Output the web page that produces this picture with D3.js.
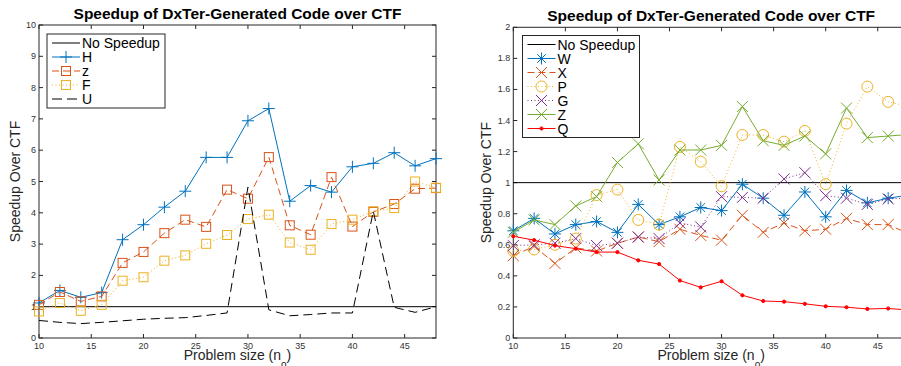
<!DOCTYPE html>
<html>
<head>
<meta charset="utf-8">
<script src="https://cdn.jsdelivr.net/npm/d3@7"></script>
<style>
  body { margin: 0; background: #fff; }
  svg { display: block; font-family: "Liberation Sans", Arial, sans-serif; }
  .tick-label { font-size: 9px; fill: #333; }
</style>
</head>
<body>
<svg id="chart" width="901" height="366"></svg>
<script>
// Problem sizes (n_o)
const sizes = [10, 12, 14, 16, 18, 20, 22, 24, 26, 28, 30, 32, 34, 36, 38, 40, 42, 44, 46, 48];

// Left chart series
const seriesH = [1.12, 1.52, 1.3, 1.45, 3.14, 3.62, 4.18, 4.69, 5.77, 5.77, 6.94, 7.33, 4.37, 4.87, 4.66, 5.47, 5.58, 5.92, 5.5, 5.73];
const seriesz = [1.06, 1.47, 1.17, 1.33, 2.4, 2.75, 3.35, 3.78, 3.55, 4.74, 4.45, 5.78, 3.6, 3.3, 5.14, 3.56, 4.03, 4.28, 4.77, 4.79];
const seriesF = [0.85, 1.12, 0.87, 1.06, 1.83, 1.94, 2.47, 2.64, 3.01, 3.29, 3.8, 3.94, 3.05, 2.82, 3.64, 3.78, 4.05, 4.15, 5.0, 4.8];
const seriesU = [0.56, 0.5, 0.46, 0.5, 0.55, 0.6, 0.63, 0.65, 0.72, 0.8, 4.82, 0.9, 0.71, 0.75, 0.8, 0.8, 4.05, 0.98, 0.82, 1.0];

// Right chart series
const seriesW = [0.69, 0.77, 0.67, 0.73, 0.75, 0.68, 0.86, 0.73, 0.78, 0.84, 0.82, 0.99, 0.9, 0.79, 0.94, 0.78, 0.95, 0.87, 0.9, 0.92];
const seriesX = [0.53, 0.59, 0.48, 0.58, 0.56, 0.61, 0.65, 0.62, 0.7, 0.66, 0.63, 0.79, 0.68, 0.74, 0.69, 0.7, 0.77, 0.73, 0.73, 0.67];
const seriesP = [0.56, 0.57, 0.6, 0.64, 0.92, 0.955, 0.76, 0.73, 1.23, 1.135, 0.977, 1.307, 1.307, 1.264, 1.333, 0.99, 1.38, 1.618, 1.52, 1.49];
const seriesG = [0.595, 0.6, 0.61, 0.64, 0.595, 0.61, 0.65, 0.64, 0.74, 0.715, 0.91, 0.905, 0.9, 1.024, 1.064, 0.916, 0.9, 0.86, 0.895, 0.9];
const seriesZ = [0.68, 0.76, 0.73, 0.85, 0.91, 1.13, 1.25, 1.017, 1.21, 1.21, 1.24, 1.49, 1.27, 1.24, 1.3, 1.185, 1.48, 1.29, 1.3, 1.31];
const seriesQ = [0.655, 0.63, 0.595, 0.575, 0.553, 0.553, 0.5, 0.476, 0.37, 0.326, 0.365, 0.275, 0.238, 0.234, 0.22, 0.204, 0.198, 0.187, 0.19, 0.18];

const xTicks = [10, 15, 20, 25, 30, 35, 40, 45];
const leftYTicks = [0, 1, 2, 3, 4, 5, 6, 7, 8, 9, 10];
const rightYTicks = [0, 0.2, 0.4, 0.6, 0.8, 1, 1.2, 1.4, 1.6, 1.8, 2];

const titleText = 'Speedup of DxTer-Generated Code over CTF';

const colors = {
  blue: '#0072BD',
  orange: '#D95319',
  yellow: '#EDB120',
  purple: '#7E2F8E',
  green: '#77AC30',
  red: '#FF0000',
  black: '#000000'
};

const dashes = { solid: null, dashed: '7,4', dotted: '1,2.5', longdash: '9,5' };

const svg = d3.select('#chart');

// marker drawing
function drawMarker(g, type, x, y, color) {
  const s = g.append('g').attr('transform', `translate(${x},${y})`)
    .attr('stroke', color).attr('fill', 'none').attr('stroke-width', 1);
  if (type === 'plus') {
    s.append('path').attr('d', 'M-6,0H6M0,-6V6');
  } else if (type === 'square') {
    s.append('rect').attr('x', -4.5).attr('y', -4.5).attr('width', 9).attr('height', 9);
  } else if (type === 'circle') {
    s.append('circle').attr('r', 5.5);
  } else if (type === 'x') {
    s.append('path').attr('d', 'M-5.5,-5.5L5.5,5.5M-5.5,5.5L5.5,-5.5');
  } else if (type === 'star') {
    s.append('path').attr('d', 'M-6,0H6M0,-6V6M-4.3,-4.3L4.3,4.3M-4.3,4.3L4.3,-4.3');
  } else if (type === 'dot') {
    s.append('circle').attr('r', 1.6).attr('fill', color);
  }
}

function makeChart(cfg) {
  const x = d3.scaleLinear().domain([10, 48]).range([cfg.left, cfg.right]);
  const y = d3.scaleLinear().domain(cfg.yDomain).range([cfg.bottom, cfg.top]);
  const g = svg.append('g');

  const clipId = 'clip' + cfg.id;
  svg.append('clipPath').attr('id', clipId).append('rect')
    .attr('x', cfg.left - 8).attr('y', cfg.top - 8)
    .attr('width', cfg.right - cfg.left + 16).attr('height', cfg.bottom - cfg.top + 8);

  // title
  g.append('text')
    .attr('x', (cfg.left + cfg.right) / 2)
    .attr('y', cfg.top - 6)
    .attr('text-anchor', 'middle')
    .style('font-size', '15.5px').style('font-weight', 'bold').attr('fill', '#000')
    .text(titleText);

  // axis box
  const axisColor = '#262626';
  g.append('rect')
    .attr('x', cfg.left).attr('y', cfg.top)
    .attr('width', cfg.right - cfg.left).attr('height', cfg.bottom - cfg.top)
    .attr('fill', 'none').attr('stroke', axisColor).attr('stroke-width', 1);

  // x ticks (inside, top & bottom)
  xTicks.forEach(t => {
    const px = x(t);
    g.append('line').attr('x1', px).attr('x2', px).attr('y1', cfg.bottom).attr('y2', cfg.bottom - 4)
      .attr('stroke', axisColor);
    g.append('line').attr('x1', px).attr('x2', px).attr('y1', cfg.top).attr('y2', cfg.top + 4)
      .attr('stroke', axisColor);
    g.append('text').attr('class', 'tick-label')
      .attr('x', px).attr('y', cfg.bottom + 11).attr('text-anchor', 'middle').text(t);
  });

  // y ticks
  cfg.yTicks.forEach(t => {
    const py = y(t);
    g.append('line').attr('x1', cfg.left).attr('x2', cfg.left + 4).attr('y1', py).attr('y2', py)
      .attr('stroke', axisColor);
    g.append('line').attr('x1', cfg.right).attr('x2', cfg.right - 4).attr('y1', py).attr('y2', py)
      .attr('stroke', axisColor);
    g.append('text').attr('class', 'tick-label')
      .attr('x', cfg.left - 3).attr('y', py + 3).attr('text-anchor', 'end').text(t);
  });

  // axis labels
  const xl = g.append('text')
    .attr('x', (cfg.left + cfg.right) / 2).attr('y', 360)
    .attr('text-anchor', 'middle').style('font-size', '14px').attr('fill', '#262626');
  xl.append('tspan').text('Problem size (n');
  xl.append('tspan').attr('dy', 8).style('font-size', '10px').text('o');
  xl.append('tspan').attr('dy', -8).text(')');

  g.append('text')
    .attr('transform', `translate(${cfg.yLabelX},${(cfg.top + cfg.bottom) / 2}) rotate(-90)`)
    .attr('text-anchor', 'middle').style('font-size', '14px').attr('fill', '#262626')
    .text('Speedup Over CTF');

  // data
  const plot = g.append('g').attr('clip-path', `url(#${clipId})`);
  const line = d3.line().x((d, i) => x(sizes[i])).y(d => y(d));

  plot.append('line')
    .attr('x1', x(10)).attr('x2', x(48)).attr('y1', y(1)).attr('y2', y(1))
    .attr('stroke', '#000').attr('stroke-width', 1);

  cfg.series.forEach(s => {
    plot.append('path')
      .datum(s.values)
      .attr('d', line)
      .attr('fill', 'none')
      .attr('stroke', s.color)
      .attr('stroke-width', 1)
      .attr('stroke-dasharray', dashes[s.dash]);
    if (s.marker) {
      s.values.forEach((v, i) => drawMarker(plot, s.marker, x(sizes[i]), y(v), s.color));
    }
  });

  // legend
  const items = [{ label: 'No Speedup', color: '#000', dash: 'solid', marker: null }].concat(cfg.series);
  const lg = g.append('g');
  lg.append('rect')
    .attr('x', cfg.legend.x).attr('y', cfg.legend.y)
    .attr('width', cfg.legend.w).attr('height', items.length * 14 + 4)
    .attr('fill', '#fff').attr('stroke', axisColor).attr('stroke-width', 1);
  items.forEach((it, i) => {
    const cy = cfg.legend.y + 9 + i * 14;
    const lx0 = cfg.legend.x + 5;
    const lx1 = lx0 + 28;
    lg.append('line').attr('x1', lx0).attr('x2', lx1).attr('y1', cy).attr('y2', cy)
      .attr('stroke', it.color).attr('stroke-width', 1)
      .attr('stroke-dasharray', it.dash === 'longdash' ? '10,5' : dashes[it.dash]);
    if (it.marker) drawMarker(lg, it.marker, (lx0 + lx1) / 2, cy, it.color);
    lg.append('text').attr('x', lx1 + 2).attr('y', cy + 5)
      .style('font-size', '14px').attr('fill', '#000').text(it.label);
  });
}

makeChart({
  id: 'L', left: 39, right: 436, top: 25, bottom: 338,
  yDomain: [0, 10], yTicks: leftYTicks, yLabelX: 20,
  legend: { x: 47, y: 34, w: 118 },
  series: [
    { label: 'H', values: seriesH, color: colors.blue, dash: 'solid', marker: 'plus' },
    { label: 'z', values: seriesz, color: colors.orange, dash: 'dashed', marker: 'square' },
    { label: 'F', values: seriesF, color: colors.yellow, dash: 'dotted', marker: 'square' },
    { label: 'U', values: seriesU, color: colors.black, dash: 'longdash', marker: null }
  ]
});

makeChart({
  id: 'R', left: 513.3, right: 909, top: 27.3, bottom: 338,
  yDomain: [0, 2], yTicks: rightYTicks, yLabelX: 491,
  legend: { x: 522.5, y: 35.5, w: 117 },
  series: [
    { label: 'W', values: seriesW, color: colors.blue, dash: 'solid', marker: 'star' },
    { label: 'X', values: seriesX, color: colors.orange, dash: 'dashed', marker: 'x' },
    { label: 'P', values: seriesP, color: colors.yellow, dash: 'dotted', marker: 'circle' },
    { label: 'G', values: seriesG, color: colors.purple, dash: 'dotted', marker: 'x' },
    { label: 'Z', values: seriesZ, color: colors.green, dash: 'solid', marker: 'x' },
    { label: 'Q', values: seriesQ, color: colors.red, dash: 'solid', marker: 'dot' }
  ]
});
</script>
</body>
</html>
